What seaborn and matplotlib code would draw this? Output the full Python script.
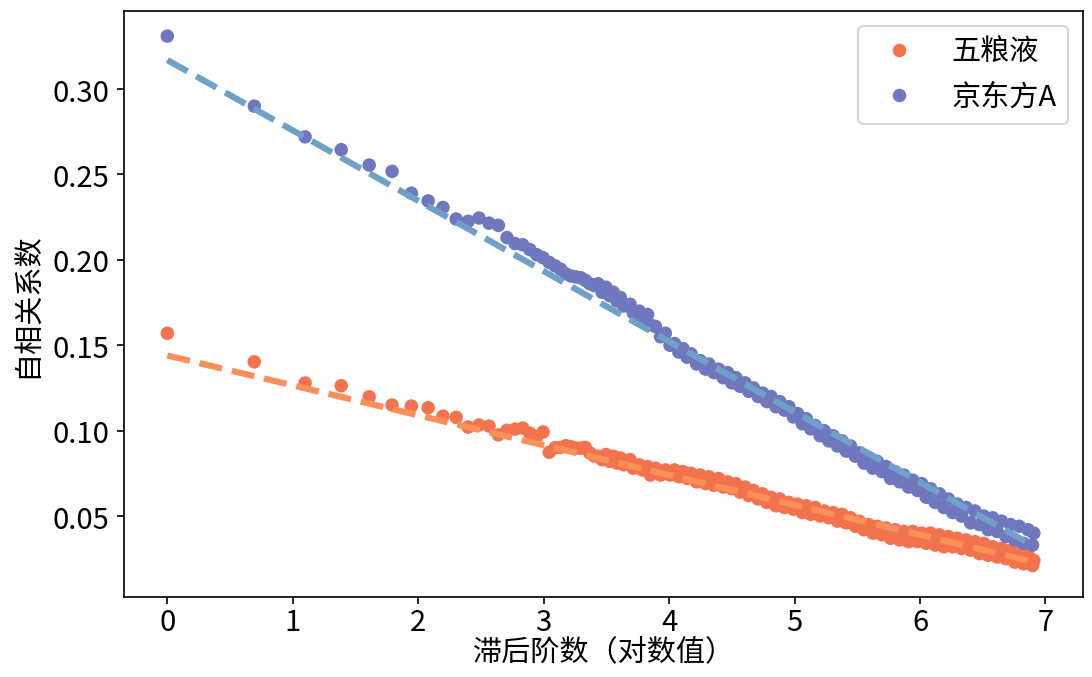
import numpy as np
import pandas as pd
import matplotlib
matplotlib.use("Agg")
import matplotlib.pyplot as plt
import seaborn as sns

plt.rcParams["font.family"] = ["Noto Sans CJK SC", "DejaVu Sans"]
plt.rcParams["axes.unicode_minus"] = False

# ── data ────────────────────────────────────────────────────────────────────
series_names = ["五粮液", "京东方A"]

lags = [1, 2, 3, 4, 5, 6, 7, 8, 9, 10, 11, 12, 13, 14, 15, 16, 17, 18, 19, 20,
        21, 22, 23, 24, 25, 26, 27, 28, 29, 30,
        31, 32, 33, 34, 35, 36, 37, 38, 40, 41, 43, 44, 46, 47, 49,
        51, 53, 55, 57, 59, 61, 63, 65,
        68, 70, 73, 75, 78, 81, 84, 87, 90, 93, 96,
        100, 103, 107, 111, 115, 119, 123, 128, 132, 137, 142, 147, 152, 158, 163,
        169, 175, 182, 188, 195,
        202, 209, 217, 224, 232, 241, 249, 258, 268, 277, 287, 298,
        308, 319, 331, 343, 355, 368, 381, 395, 409, 424, 439, 455, 471, 488,
        506, 524, 543, 562, 583, 604, 625, 648, 671, 695, 720, 746, 773, 801,
        830, 859, 890, 922, 955, 990, 1000]

acf_wly = [0.157, 0.1403, 0.1279, 0.1263, 0.1198, 0.1150, 0.1144, 0.1134, 0.1085, 0.1078,
           0.1021, 0.1033, 0.1027, 0.0975, 0.1002, 0.1009, 0.1015, 0.0985, 0.0965, 0.0992,
           0.0873, 0.0900, 0.0902, 0.0912, 0.0905, 0.0898, 0.0897, 0.0902, 0.0870, 0.0852,
           0.085, 0.083, 0.086, 0.082, 0.085, 0.081, 0.084, 0.080, 0.083, 0.078,
           0.080, 0.077, 0.079, 0.074, 0.078,
           0.074, 0.077, 0.074, 0.077, 0.073, 0.076, 0.072, 0.075,
           0.070, 0.074, 0.069, 0.073, 0.068, 0.072, 0.067, 0.070, 0.066, 0.069, 0.064,
           0.067, 0.062, 0.065, 0.060, 0.063, 0.058, 0.061, 0.056, 0.060, 0.055,
           0.058, 0.054, 0.057, 0.052, 0.056, 0.051, 0.055, 0.050, 0.053, 0.049,
           0.052, 0.047, 0.051, 0.046, 0.049, 0.044, 0.047, 0.042, 0.045, 0.040, 0.044, 0.039,
           0.043, 0.037, 0.042, 0.036, 0.041, 0.035, 0.041, 0.035, 0.040, 0.034,
           0.040, 0.033, 0.039, 0.032,
           0.038, 0.032, 0.037, 0.031, 0.036, 0.030, 0.035, 0.028, 0.034, 0.027,
           0.032, 0.026, 0.031, 0.025, 0.030, 0.023, 0.029, 0.022, 0.027, 0.021, 0.024]

acf_jdf = [0.331, 0.290, 0.272, 0.2645, 0.2555, 0.2518, 0.2390, 0.2345, 0.2307, 0.2239,
           0.2226, 0.2245, 0.2215, 0.2202, 0.2130, 0.2095, 0.2088, 0.2060, 0.2030, 0.2012,
           0.1985, 0.1965, 0.1945, 0.1918, 0.1905, 0.1900, 0.1895, 0.1880, 0.1860, 0.1850,
           0.186, 0.181, 0.184, 0.179, 0.181, 0.176, 0.178, 0.173, 0.174, 0.169,
           0.170, 0.166, 0.168, 0.162, 0.161,
           0.155, 0.157, 0.150, 0.151, 0.146, 0.148, 0.143, 0.145,
           0.139, 0.141, 0.136, 0.139, 0.134, 0.136, 0.131, 0.134, 0.128, 0.131, 0.126,
           0.128, 0.123, 0.125, 0.120, 0.122, 0.117, 0.120, 0.114, 0.117, 0.112,
           0.114, 0.108, 0.110, 0.104, 0.107, 0.101, 0.103, 0.097, 0.100, 0.094,
           0.097, 0.091, 0.094, 0.088, 0.091, 0.085, 0.087, 0.081, 0.084, 0.078, 0.082, 0.076,
           0.079, 0.072, 0.076, 0.070, 0.074, 0.067, 0.071, 0.065, 0.069, 0.061,
           0.066, 0.058, 0.063, 0.055,
           0.060, 0.052, 0.057, 0.050, 0.055, 0.046, 0.053, 0.045, 0.050, 0.042,
           0.049, 0.041, 0.047, 0.038, 0.045, 0.036, 0.044, 0.034, 0.042, 0.033, 0.040]

# linear fits (intercept, slope) of acf on log(lag)
fit_wly = [0.144, -0.0175]
fit_jdf = [0.317, -0.0412]

point_colors = ["#f4734f", "#6f78be"]
line_colors = ["#fa8f57", "#6fa1c8"]

# ── build long table ────────────────────────────────────────────────────────
log_lag = np.log(np.array(lags, dtype=float))
df = pd.DataFrame({
    "log_lag": np.concatenate([log_lag, log_lag]),
    "acf": acf_wly + acf_jdf,
    "stock": [series_names[0]] * len(lags) + [series_names[1]] * len(lags),
})

fig = plt.figure(figsize=(7.28, 4.52), dpi=150)
ax = fig.add_axes([0.1136, 0.118, 0.8782, 0.8643])

sns.scatterplot(
    data=df, x="log_lag", y="acf", hue="stock",
    hue_order=series_names, palette=point_colors,
    s=42, linewidth=0, alpha=1.0, ax=ax, zorder=2,
)

# dashed regression lines drawn on top of the points
x_fit = np.array([log_lag.min(), log_lag.max()])
for (b0, b1), col in zip([fit_wly, fit_jdf], line_colors):
    ax.plot(x_fit, b0 + b1 * x_fit, linestyle="--", linewidth=3, color=col, zorder=3)

ax.set_xlim(-0.345, 7.3)
ax.set_ylim(0.0026, 0.3457)
ax.set_yticks([0.05, 0.10, 0.15, 0.20, 0.25, 0.30])
ax.set_xticks(range(0, 8))
ax.tick_params(labelsize=14)
ax.tick_params(axis="x", pad=1.5)
ax.set_xlabel("滞后阶数（对数值）", fontsize=14, labelpad=0)
ax.set_ylabel("自相关系数", fontsize=14, labelpad=5)

leg = ax.legend(loc="upper right", fontsize=14, title=None)

fig.savefig("out.png", dpi=150)
plt.close(fig)
